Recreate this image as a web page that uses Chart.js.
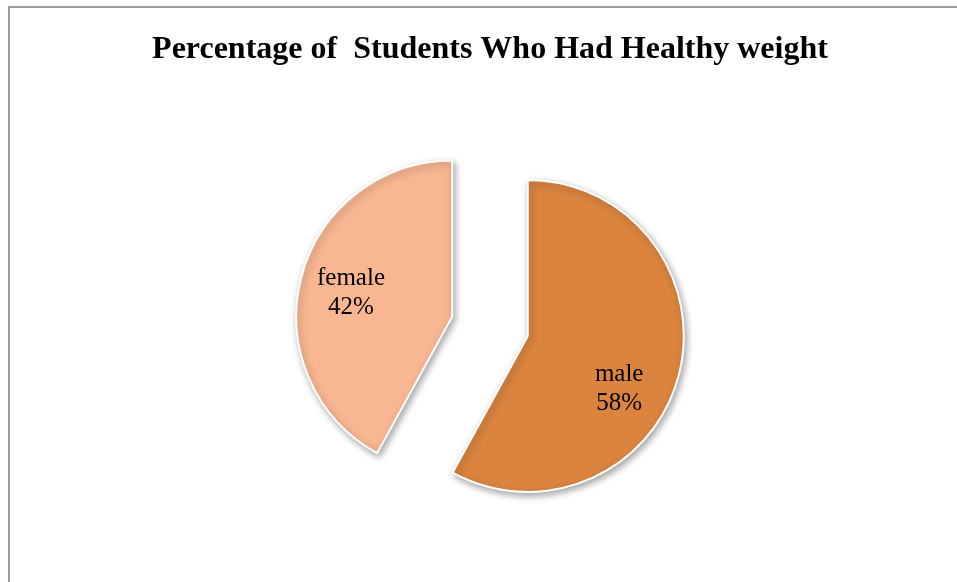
<!DOCTYPE html>
<html>
<head>
<meta charset="utf-8">
<script src="https://cdn.jsdelivr.net/npm/chart.js@4/dist/chart.umd.min.js"></script>
<style>
  html, body { margin: 0; padding: 0; background: #fff; }
  #wrap { position: relative; width: 957px; height: 582px; overflow: hidden; }
  #frame {
    position: absolute; left: 8px; top: 6px; right: -10px; bottom: -10px;
    border-left: 2px solid #9a9a9a; border-top: 2px solid #9a9a9a;
    pointer-events: none;
  }
</style>
</head>
<body>
<div id="wrap">
  <canvas id="myChart" width="957" height="582"></canvas>
  <div id="frame"></div>
</div>
<script>
// chart data
const titleText = 'Percentage of  Students Who Had Healthy weight';
const genders = ['male', 'female'];
const healthyPct = [58, 42];
const sliceColors = ['#DA843F', '#F8B692'];

// how far each slice is pulled out from the centre (px)
const explode = 39;
// where along each slice's sweep its label sits (0 = start, 1 = end)
const labelAt = [0.57, 0.5];

// pull the slices apart after the controller has laid them out
const explodePlugin = {
    id: 'explode',
    afterDatasetsUpdate(chart) {
        const meta = chart.getDatasetMeta(0);
        meta.data.forEach(function(arc) {
            const mid = (arc.startAngle + arc.endAngle) / 2;
            arc.x += Math.cos(mid) * explode;
            arc.y += Math.sin(mid) * explode;
        });
    }
};

// soft drop shadow under the slices
const shadowPlugin = {
    id: 'shadow',
    beforeDatasetsDraw(chart) {
        const ctx = chart.ctx;
        ctx.save();
        ctx.shadowColor = 'rgba(0,0,0,0.35)';
        ctx.shadowBlur = 7;
        ctx.shadowOffsetX = 2;
        ctx.shadowOffsetY = 3;
    },
    afterDatasetsDraw(chart) {
        chart.ctx.restore();
    }
};

// "name / xx%" inside each slice
const labelPlugin = {
    id: 'sliceLabels',
    afterDraw(chart) {
        const ctx = chart.ctx;
        const meta = chart.getDatasetMeta(0);
        const data = chart.data.datasets[0].data;
        const total = data.reduce(function(a, b) { return a + b; }, 0);
        ctx.save();
        ctx.fillStyle = '#000';
        ctx.font = '25px "Liberation Serif", "Times New Roman", serif';
        ctx.textAlign = 'center';
        ctx.textBaseline = 'alphabetic';
        meta.data.forEach(function(arc, i) {
            const ang = arc.startAngle + (arc.endAngle - arc.startAngle) * labelAt[i];
            const r = arc.outerRadius * 0.67;
            const cx = arc.x + Math.cos(ang) * r;
            const cy = arc.y + Math.sin(ang) * r;
            const pct = Math.round(data[i] / total * 100) + '%';
            ctx.fillText(chart.data.labels[i], cx, cy - 6);
            ctx.fillText(pct, cx, cy + 23);
        });
        ctx.restore();
    }
};

const ctx = document.getElementById('myChart').getContext('2d');
const config = {
    type: 'pie',
    data: {
        labels: genders,
        datasets: [{
            data: healthyPct,
            backgroundColor: sliceColors,
            borderColor: '#ffffff',
            borderWidth: 2,
            hoverOffset: 0,
            radius: 156
        }]
    },
    options: {
        responsive: false,
        animation: false,
        events: [],
        layout: {
            padding: { left: 23, right: 0, top: 0, bottom: 30 }
        },
        plugins: {
            legend: { display: false },
            tooltip: { enabled: false },
            title: {
                display: true,
                text: titleText,
                color: '#000',
                font: { family: '"Liberation Serif", "Times New Roman", serif', size: 32, weight: 'bold' },
                padding: { top: 31, bottom: 31 }
            }
        }
    },
    plugins: [explodePlugin, shadowPlugin, labelPlugin]
};
const myChart = new Chart(ctx, config);
</script>
</body>
</html>
